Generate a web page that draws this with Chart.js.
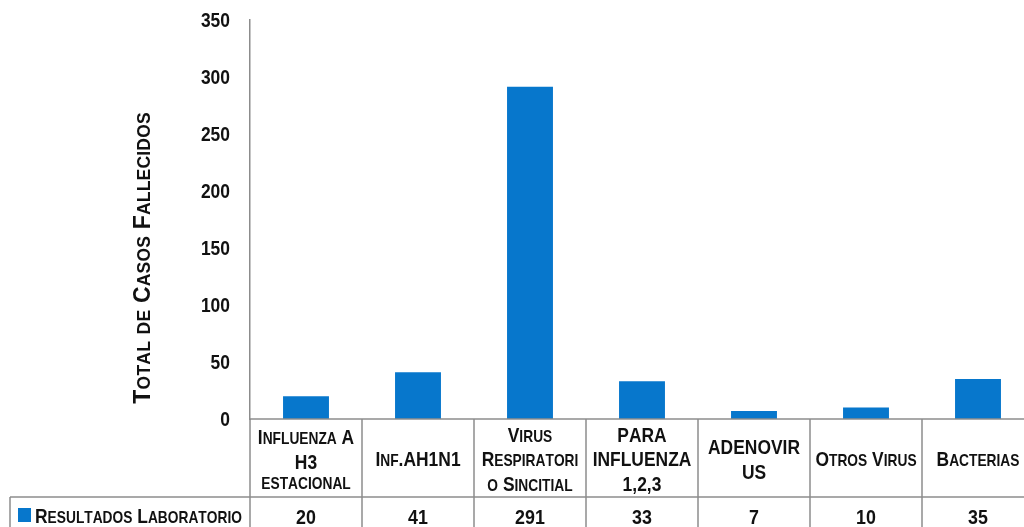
<!DOCTYPE html>
<html>
<head>
<meta charset="utf-8">
<script src="https://cdn.jsdelivr.net/npm/chart.js@4"></script>
<style>
  html, body { margin: 0; padding: 0; overflow: hidden; background: #ffffff; }
  #wrap { position: absolute; left: 0; top: 0; width: 1040px; height: 540px; }
</style>
</head>
<body>
<div id="wrap"><canvas id="chart"></canvas></div>
<script>
// Category labels, one entry per table column (each inner array = lines of the header cell).
// Lower-case letters are rendered as small capitals.
const categories = [
  ['Influenza A', 'H3', 'estacional'],
  ['Inf.AH1N1'],
  ['Virus', 'Respiratori', 'o Sincitial'],
  ['PARA', 'INFLUENZA', '1,2,3'],
  ['ADENOVIR', 'US'],
  ['Otros Virus'],
  ['Bacterias']
];
const seriesName = 'Resultados Laboratorio';
const seriesValues = [20, 41, 291, 33, 7, 10, 35];
const yTickValues = [0, 50, 100, 150, 200, 250, 300, 350];
const yTitle = 'Total de Casos Fallecidos';

const FONT = '"Liberation Sans", Arial, sans-serif';
const INK = '#111111';
const RULE = '#8c8c8c';
const BLUE = '#0777cc';
const NARROW = 0.85;   // horizontal squeeze for the condensed face

// Small-caps text helpers
function isLower(ch) { return ch !== ch.toUpperCase(); }

function scWidth(ctx, text, big, small, spacing) {
  let w = 0;
  for (const ch of text) {
    const s = isLower(ch);
    ctx.font = 'bold ' + (s ? small : big) + 'px ' + FONT;
    w += ctx.measureText(ch.toUpperCase()).width + spacing;
  }
  return w - spacing;
}

function drawSC(ctx, text, x, y, big, small, align, spacing, sx) {
  spacing = spacing || 0;
  sx = sx || 1;
  const w = scWidth(ctx, text, big, small, spacing) * sx;
  const start = align === 'center' ? x - w / 2 : (align === 'right' ? x - w : x);
  ctx.save();
  ctx.translate(start, y);
  ctx.scale(sx, 1);
  ctx.textAlign = 'left';
  ctx.textBaseline = 'alphabetic';
  let cx = 0;
  for (const ch of text) {
    const s = isLower(ch);
    ctx.font = 'bold ' + (s ? small : big) + 'px ' + FONT;
    const u = ch.toUpperCase();
    ctx.fillText(u, cx, 0);
    cx += ctx.measureText(u).width + spacing;
  }
  ctx.restore();
}

function lineFont(text, big, small) {
  for (const ch of text) {
    if (ch !== ' ' && !isLower(ch)) return big;
  }
  return small;
}

function seg(ctx, x1, y1, x2, y2) {
  ctx.beginPath();
  ctx.moveTo(x1, y1);
  ctx.lineTo(x2, y2);
  ctx.stroke();
}

// Tick labels, data table under the plot and the rotated axis title
const dataTablePlugin = {
  id: 'dataTable',
  afterDraw(chart) {
    const { ctx, chartArea: ca, scales } = chart;
    const x = scales.x, y = scales.y;
    const n = categories.length;
    const colW = (ca.right - ca.left) / n;
    const headTop = ca.bottom;
    const headBot = headTop + 78;
    const rowBot = headBot + 40;
    const legendLeft = 10;

    ctx.save();
    ctx.fillStyle = INK;

    // y tick labels
    yTickValues.forEach(v => {
      drawSC(ctx, String(v), ca.left - 20, y.getPixelForValue(v) + 7, 20.5, 20.5, 'right', 0, NARROW);
    });

    // table rules
    ctx.strokeStyle = RULE;
    ctx.lineWidth = 1.5;
    seg(ctx, ca.left, headTop, ca.right, headTop);
    seg(ctx, legendLeft, headBot, ca.right, headBot);
    seg(ctx, legendLeft, rowBot, ca.right, rowBot);
    for (let i = 0; i <= n; i++) {
      const xb = ca.left + i * colW;
      seg(ctx, xb, headTop, xb, rowBot);
    }
    seg(ctx, legendLeft, headBot, legendLeft, rowBot);

    // header cells
    const BIG = 20.5, SMALL = 16.2;
    const headMid = (headTop + headBot) / 2 + 1;
    categories.forEach((lines, i) => {
      const cx = x.getPixelForValue(i);
      const fonts = lines.map(t => lineFont(t, BIG, SMALL));
      const heights = fonts.map(f => f * 1.2);
      const total = heights.reduce((a, b) => a + b, 0);
      let top = headMid - total / 2;
      lines.forEach((t, k) => {
        const base = top + heights[k] / 2 + fonts[k] * 0.36;
        drawSC(ctx, t, cx, base, BIG, SMALL, 'center', 0, NARROW);
        top += heights[k];
      });
    });

    // value row
    const rowMid = (headBot + rowBot) / 2;
    seriesValues.forEach((v, i) => {
      drawSC(ctx, String(v), x.getPixelForValue(i), rowMid + 7.4, 21, 21, 'center', 0, NARROW);
    });

    // legend key cell
    ctx.fillStyle = BLUE;
    ctx.fillRect(18, rowMid - 9, 13, 14);
    ctx.fillStyle = INK;
    drawSC(ctx, seriesName, 35, rowMid + 5.5, BIG, SMALL, 'left', 0, NARROW);

    // rotated axis title
    ctx.translate(150, 258);
    ctx.rotate(-Math.PI / 2);
    drawSC(ctx, yTitle, 0, 0, 23, 17.5, 'center', 0.2, 1);

    ctx.restore();
  }
};

new Chart(document.getElementById('chart'), {
  type: 'bar',
  data: {
    labels: categories.map(l => l.join(' ')),
    datasets: [{
      label: seriesName,
      data: seriesValues,
      backgroundColor: BLUE,
      borderWidth: 0,
      categoryPercentage: 1,
      barPercentage: 0.41
    }]
  },
  options: {
    responsive: true,
    maintainAspectRatio: false,
    animation: false,
    layout: { padding: { top: 19.5, right: 6, bottom: 121, left: 0 } },
    plugins: {
      legend: { display: false },
      tooltip: { enabled: false },
      title: { display: false }
    },
    scales: {
      x: { display: false },
      y: {
        min: 0,
        max: 350,
        afterFit(scale) { scale.width = 250; },
        afterBuildTicks(scale) { scale.ticks = yTickValues.map(v => ({ value: v })); },
        grid: { display: false, drawTicks: false },
        border: { display: true, color: RULE, width: 1.5 },
        ticks: { display: false }
      }
    }
  },
  plugins: [dataTablePlugin]
});
</script>
</body>
</html>
